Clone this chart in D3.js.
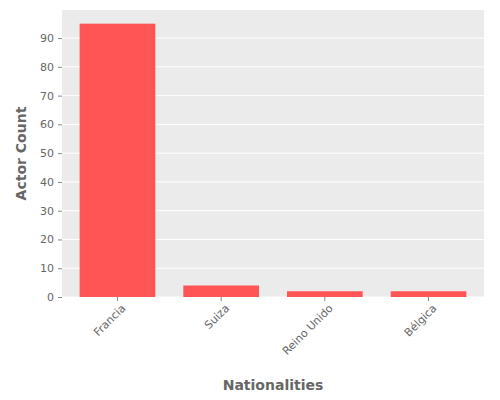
<!DOCTYPE html>
<html>
<head>
<meta charset="utf-8">
<script src="https://cdn.jsdelivr.net/npm/d3@7"></script>
<style>
  body { margin: 0; background: #fff; }
  text { font-family: "DejaVu Sans", sans-serif; }
</style>
</head>
<body>
<div id="chart"></div>
<script>
var nationalities = ["Francia", "Suiza", "Reino Unido", "Bélgica"];
var actorCounts = [95, 4, 2, 2];
var yTicks = [0, 10, 20, 30, 40, 50, 60, 70, 80, 90];

var width = 500, height = 400;
var plotLeft = 62, plotRight = 484, plotTop = 10, plotBottom = 297;

var svg = d3.select("#chart").append("svg")
  .attr("width", width)
  .attr("height", height);

// panel background
svg.append("rect")
  .attr("x", plotLeft).attr("y", plotTop)
  .attr("width", plotRight - plotLeft).attr("height", plotBottom - plotTop)
  .attr("fill", "#ebebeb");

var x_scale = d3.scaleBand()
  .domain(nationalities)
  .range([plotLeft, plotRight])
  .paddingInner(0.27)
  .paddingOuter(0.17);

var y_scale = d3.scaleLinear()
  .domain([0, 99.75])
  .range([plotBottom, plotTop]);

// grid lines
svg.append("g").selectAll("line")
  .data(yTicks)
  .enter().append("line")
  .attr("x1", plotLeft).attr("x2", plotRight)
  .attr("y1", d => y_scale(d)).attr("y2", d => y_scale(d))
  .attr("stroke", "#fff").attr("stroke-width", 1);

// bars
svg.append("g").selectAll("rect")
  .data(nationalities)
  .enter().append("rect")
  .attr("x", d => x_scale(d))
  .attr("y", (d, i) => y_scale(actorCounts[i]))
  .attr("width", x_scale.bandwidth())
  .attr("height", (d, i) => y_scale(0) - y_scale(actorCounts[i]))
  .attr("fill", "#ff5555");

// y axis
var y_axis = d3.axisLeft(y_scale).tickValues(yTicks).tickSize(4).tickPadding(4);
var gy = svg.append("g")
  .attr("transform", "translate(" + plotLeft + ",0)")
  .call(y_axis);
gy.select(".domain").remove();
gy.selectAll("line").attr("stroke", "#888");
gy.selectAll("text").attr("fill", "#666").attr("font-size", 11);

// x axis
var x_axis = d3.axisBottom(x_scale).tickSize(4).tickPadding(4);
var gx = svg.append("g")
  .attr("transform", "translate(0," + plotBottom + ")")
  .call(x_axis);
gx.select(".domain").remove();
gx.selectAll("line").attr("stroke", "#888");
gx.selectAll("text")
  .attr("fill", "#666").attr("font-size", 11)
  .attr("text-anchor", "end")
  .attr("dx", "-0.2em").attr("dy", "0.6em")
  .attr("transform", "rotate(-45)");

// axis titles
svg.append("text")
  .attr("x", (plotLeft + plotRight) / 2).attr("y", 390)
  .attr("text-anchor", "middle")
  .attr("font-size", 14).attr("font-weight", "bold").attr("fill", "#666")
  .text("Nationalities");

svg.append("text")
  .attr("transform", "translate(26," + (plotTop + plotBottom) / 2 + ") rotate(-90)")
  .attr("text-anchor", "middle")
  .attr("font-size", 14).attr("font-weight", "bold").attr("fill", "#666")
  .text("Actor Count");
</script>
</body>
</html>
